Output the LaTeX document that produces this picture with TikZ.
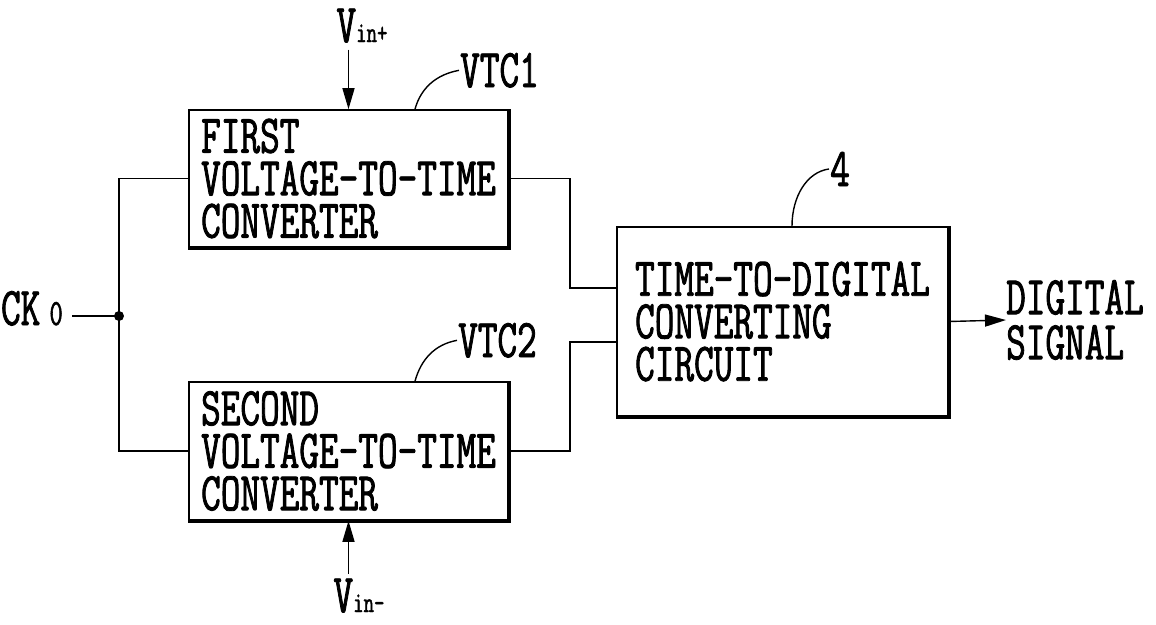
\documentclass[tikz,border=0pt]{standalone}
\usepackage{fontspec}
\setmainfont{Latin Modern Mono}[FakeStretch=0.70,FakeBold=1.5]
\usetikzlibrary{arrows.meta}
\newcommand\bigfnt{\fontsize{54.5}{42.5}\selectfont}
\newcommand\insub[1]{{\fontsize{29}{29}\selectfont #1}}
\newcommand\cksub[1]{{\fontsize{37}{37}\selectfont #1}}
\begin{document}
\begin{tikzpicture}[x=1pt,y=-1pt,
  box/.style={draw, line width=1.6pt, align=left, inner sep=0pt, font=\bigfnt},
  lbl/.style={inner sep=1pt, font=\bigfnt},
  wire/.style={line width=1.4pt},
  arr/.style={line width=1.4pt, -{Triangle[length=21pt,width=12pt]}},
  shade/.style={line width=3.4pt}
]
\fill[white] (0,0) rectangle (1156,624);
\useasboundingbox (0,0) rectangle (1156,624);

% blocks
\node[box, minimum width=319pt, minimum height=137pt] (b1) at (348.5,178.5)
  {FIRST\\VOLTAGE-TO-TIME\\CONVERTER};
\node[box, minimum width=319pt, minimum height=138pt] (b2) at (348.5,451)
  {SECOND\\VOLTAGE-TO-TIME\\CONVERTER};
\node[box, minimum width=331pt, minimum height=189pt] (tdc) at (782.5,321.5)
  {TIME-TO-DIGITAL\\CONVERTING\\CIRCUIT};
\draw[shade] (b1.north east) -- (b1.south east) -- (b1.south west);
\draw[shade] (b2.north east) -- (b2.south east) -- (b2.south west);
\draw[shade] (tdc.north east) -- (tdc.south east) -- (tdc.south west);

% labels
\node[lbl, anchor=base] (vp) at (362,42) {V\insub{in+}};
\node[lbl, anchor=base] (vm) at (359,612) {V\insub{in-}};
\node[lbl, anchor=base east] (ck) at (64,325) {CK\,\cksub{0}};
\node[lbl, anchor=base west] (l1) at (459,87) {VTC1};
\node[lbl, anchor=base west] (l2) at (457,357) {VTC2};
\node[lbl, anchor=base west] (l4) at (829,186) {4};
\node[lbl, anchor=west, align=left, inner sep=0pt, font=\fontsize{54.5}{45}\selectfont] (out) at (1006,320) {DIGITAL\\SIGNAL};

% junction
\coordinate (j) at (119,316);
\coordinate (m1) at (570,288);
\coordinate (m2) at (570,342);

% wires
\draw[wire] ([xshift=8pt]ck.east |- j) -- (j);
\fill (j) circle (5pt);
\draw[wire] (b1.west) -| (j) |- (b2.west);
\draw[wire] (b1.east) -| (m1) -- (m1 -| tdc.west);
\draw[wire] (b2.east) -| (m2) -- (m2 -| tdc.west);
\draw[arr] (tdc.east) -- (out.west);
\draw[arr] ([yshift=-6pt]b1.north |- vp.south) -- (b1.north);
\draw[arr] ([yshift=4pt]b2.south |- vm.north) -- (b2.south);

% leaders
\draw[wire] ([xshift=66.5pt]b1.north) .. controls +(6,-22) and +(-22,4) .. (l1.west);
\draw[wire] ([xshift=66.5pt]b2.north) .. controls +(6,-22) and +(-22,4) .. (l2.west);
\draw[wire] ([xshift=9.5pt]tdc.north) .. controls +(0,-30) and +(-22,3) .. (l4.west);
\end{tikzpicture}
\end{document}
